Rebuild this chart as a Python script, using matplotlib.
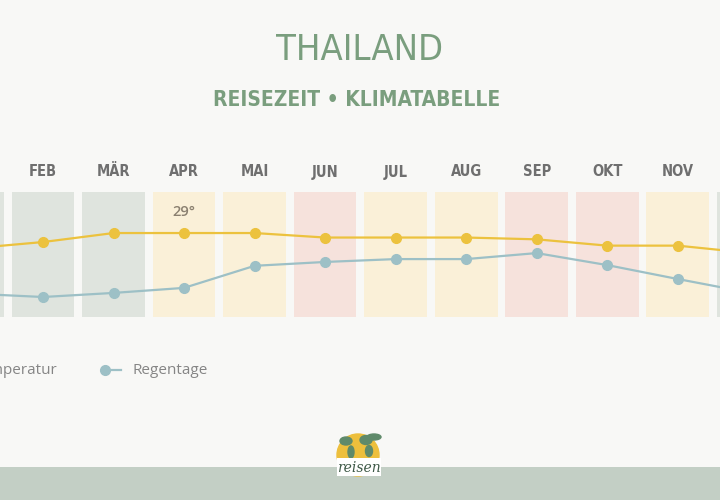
import matplotlib.pyplot as plt
from matplotlib.lines import Line2D
from matplotlib.patches import Rectangle, Ellipse

# ---------------------------------------------
# Data
# ---------------------------------------------
months = ['JAN', 'FEB', 'MÄR', 'APR', 'MAI', 'JUN',
          'JUL', 'AUG', 'SEP', 'OKT', 'NOV', 'DEZ']
temperatur = [27.3, 28.0, 29.0, 29.0, 29.0, 28.5, 28.5, 28.5, 28.3, 27.6, 27.6, 26.8]
regentage = [2.4, 1.0, 2.7, 4.8, 14.0, 15.6, 16.8, 16.8, 19.3, 14.3, 8.5, 2.9]
# reisezeit rating per month: g = good (green), y = ok (yellow), r = bad (red)
rating = ['g', 'g', 'g', 'y', 'y', 'r', 'y', 'y', 'r', 'r', 'y', 'g']
label_month = 'APR'
label_text = '29°'

# ---------------------------------------------
# Styles
# ---------------------------------------------
bg = '#f8f8f6'
col_colors = {'g': '#dfe4de', 'y': '#faf0d8', 'r': '#f6e2dc'}
c_temp = '#ecc23e'
c_rain = '#9dc0c6'
c_title = '#7a9e7e'
c_month = '#6f6f6f'

W, H = 720, 500
fig = plt.figure(figsize=(7.2, 5.0), dpi=100, facecolor=bg)

# axes covers the column area (pixel y 192..317)
ax = fig.add_axes([0, 1 - 317 / H, 1, 125 / H])
ax.set_facecolor('none')
ax.set_xlim(0.39, 10.60)
ax.set_ylim(19.67, 33.56)
ax.axis('off')

ax2 = ax.twinx()
ax2.set_ylim(-7.33, 44.75)
ax2.axis('off')

x = list(range(len(months)))

# columns
for i, r in enumerate(rating):
    ax.bar(i, 33.56 - 19.67, bottom=19.67, width=0.89,
           color=col_colors[r], zorder=0)

# month labels
for i, m in enumerate(months):
    ax.text(i, 1.16, m, transform=ax.get_xaxis_transform(),
            ha='center', va='center', fontsize=10.5, fontweight='bold',
            color=c_month, family='DejaVu Sans', fontstretch='condensed')

# lines
ax.plot(x, temperatur, color=c_temp, lw=1.6, marker='o', ms=7,
        zorder=3, clip_on=False)
ax2.plot(x, regentage, color=c_rain, lw=1.6, marker='o', ms=7,
         zorder=3, clip_on=False)

li = months.index(label_month)
ax.annotate(label_text, (li, temperatur[li]), xytext=(0, 15),
            textcoords='offset points', ha='center', va='center',
            fontsize=10.5, color='#8a8070', family='Open Sans',
            fontweight='semibold')

# titles
fig.text(360 / W, 1 - 50 / H, 'THAILAND', ha='center', va='center',
         fontsize=26, color=c_title, family='DejaVu Sans',
         fontstretch='condensed', fontweight='light')
fig.text(357 / W, 1 - 100 / H, 'REISEZEIT • KLIMATABELLE', ha='center',
         va='center', fontsize=15, fontweight='bold', color=c_title,
         family='DejaVu Sans', fontstretch='condensed')

# legend (manual)
fig.text(58 / W, 1 - 370 / H, 'Temperatur', ha='right', va='center',
         fontsize=11, color='#858585', family='Open Sans')
fig.add_artist(Line2D([-120 / W, -100 / W], [1 - 370 / H] * 2, color=c_temp,
                      lw=1.6, marker='o', ms=7, markevery=[0]))
fig.add_artist(Line2D([105 / W, 121 / W], [1 - 370 / H] * 2, color=c_rain,
                      lw=1.6, marker='o', ms=7, markevery=[0]))
fig.text(132 / W, 1 - 370 / H, 'Regentage', ha='left', va='center',
         fontsize=11, color='#858585', family='Open Sans')

# footer band + logo
fig.add_artist(Rectangle((0, 0), 1, 33 / H, color='#c3cfc5', lw=0,
                         transform=fig.transFigure))
fig.add_artist(Ellipse((358 / W, 1 - 455 / H), 42 / W, 42 / H, color='#edbf3c',
                       transform=fig.transFigure))
for ex, ey, ew, eh in [(346, 441, 12, 8), (351, 452, 6, 12), (366, 440, 12, 9),
                       (369, 451, 7, 11), (374, 437, 14, 6)]:
    fig.add_artist(Ellipse((ex / W, 1 - ey / H), ew / W, eh / H,
                           color='#5f8a6a', transform=fig.transFigure))
fig.add_artist(Rectangle((337 / W, 1 - 476 / H), 44 / W, 18 / H, color='white',
                         lw=0, transform=fig.transFigure))
fig.text(359 / W, 1 - 468 / H, 'reisen', ha='center', va='center',
         fontsize=10, style='italic', color='#3f5a48', family='DejaVu Serif')

fig.savefig('out.png', dpi=100, facecolor=bg)
